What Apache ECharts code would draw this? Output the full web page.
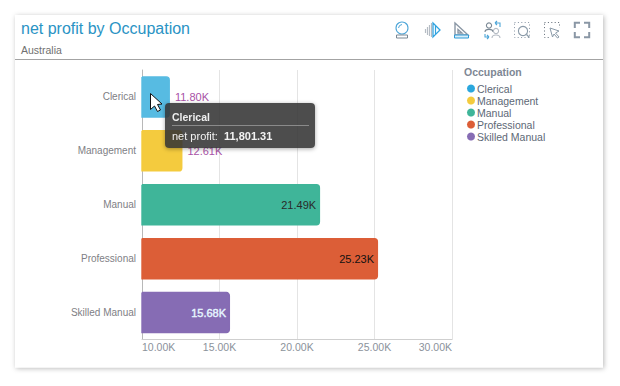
<!DOCTYPE html>
<html><head><meta charset="utf-8">
<style>html,body{margin:0;padding:0;background:#fff}#c{width:620px;height:386px}</style>
<script src="https://cdn.jsdelivr.net/npm/echarts@6/dist/echarts.min.js"></script>
</head><body><div id="c"></div>
<script>
const categories = ['Clerical','Management','Manual','Professional','Skilled Manual'];
const netProfit = [11801.31,12610,21490,25230,15680];
const barColors = ['#57bbe2','#f4cb3e','#3fb599','#dc5e37','#866cb4'];
const legendColors = ['#2ba7dd','#f4cb3e','#3fb599','#dc5e37','#866cb4'];
const labelColors = ['#a852a6','#a852a6','#2a2a2a','#111111','#e6f6ff'];
const labelPositions = ['right','right','insideRight','insideRight','insideRight'];
const labelGaps = [5,5,4,4,4];
const fmtK = v => (v/1000).toFixed(2)+'K';
const FONT = '"Liberation Sans",Arial,sans-serif';
const chart = echarts.init(document.getElementById('c'),null,{renderer:'svg',width:620,height:386});
const line = (shape,stroke,w) => ({type:'line',shape,style:{stroke,lineWidth:w||1.2,fill:null}});
let pathCount = 0;
const path = (d,stroke,w,fill,z) => {
  const name = 'iconPath'+(pathCount++);
  echarts.graphic.registerShape(name, echarts.graphic.extendPath(d));
  return {type:name,z:z||0,style:{stroke,lineWidth:w||1.2,fill:fill||'none'}};
};
const icon = (x,y,children)=>({type:'group',x,y,children});
const blue='#4ea6d8', grey='#8a97a5', lg='#b5bcc4';
const dash=[1,2.4];
chart.setOption({
  animation:false,
  textStyle:{fontFamily:FONT},
  title:{left:16,top:15,text:'net profit by Occupation',itemGap:8,
    textStyle:{color:'#2a93c4',fontSize:16,fontWeight:'normal',fontFamily:FONT},
    subtext:'Australia',subtextStyle:{color:'#707070',fontSize:10.5,fontFamily:FONT}},
  grid:{left:142,right:168,top:70,bottom:46.5,containLabel:false},
  xAxis:{type:'value',min:10000,max:30000,interval:5000,
    axisLine:{show:true,lineStyle:{color:'#cfcfcf'}},axisTick:{show:false},
    splitLine:{show:true,lineStyle:{color:'#e4e4e4'}},
    axisLabel:{formatter:fmtK,color:'#8b929b',fontSize:10.5,margin:2,alignMinLabel:'left',alignMaxLabel:'right'}},
  yAxis:{type:'category',inverse:true,data:categories,
    axisLine:{show:true,lineStyle:{color:'#b8b8b8'}},axisTick:{show:false},
    axisLabel:{color:'#808085',fontSize:10,margin:6}},
  legend:{left:467,top:83,padding:0,orient:'vertical',itemWidth:8,itemHeight:8,itemGap:1,icon:'circle',selectedMode:false,
    textStyle:{color:'#5d6876',fontSize:10.5,padding:[0,0,0,-3]},
    data:categories.map((n,i)=>({name:n,itemStyle:{color:legendColors[i],borderWidth:0}}))},
  tooltip:{trigger:'item',showContent:true,alwaysShowContent:true,transitionDuration:0,
    position:[165,103],padding:[7,6,6,7],backgroundColor:'rgba(52,52,52,0.88)',borderWidth:0,borderRadius:4,
    extraCssText:'width:137px;height:32px;box-sizing:content-box;box-shadow:0 1px 4px rgba(0,0,0,.35);font-family:'+FONT+';',
    formatter:p=>'<div style="color:#eee;font-size:10.5px;font-weight:bold;line-height:14px;border-bottom:1px solid #8a8a8a;padding-bottom:1px;">'+p.seriesName+'</div>'+
      '<div style="color:#f2f2f2;font-size:11px;line-height:20px;white-space:nowrap;">net profit:&nbsp; <b>'+
      p.value.toLocaleString('en-US',{minimumFractionDigits:2})+'</b></div>'},
  series:categories.map((n,i)=>({
    name:n,type:'bar',barWidth:41.5,barGap:'-100%',
    data:categories.map((c,j)=>j===i?netProfit[j]:null),
    itemStyle:{color:barColors[i],borderColor:barColors[i],borderWidth:1.4,borderRadius:[0,3,3,0]},
    emphasis:{disabled:true},
    label:{show:true,position:labelPositions[i],distance:labelGaps[i],formatter:p=>fmtK(p.value),
      color:labelColors[i],fontSize:11,fontFamily:FONT,
      textBorderColor:labelColors[i],textBorderWidth:i===4?0.4:0}
  })),
  graphic:[
    {type:'rect',z:-100,shape:{x:15,y:15,width:588,height:352.5},
      style:{fill:'#fff',shadowBlur:5,shadowColor:'rgba(0,0,0,0.28)',shadowOffsetX:1,shadowOffsetY:1}},
    {type:'line',z:-90,shape:{x1:15,y1:59.5,x2:603,y2:59.5},style:{stroke:'#a3a3a3',lineWidth:1}},
    {type:'text',x:464,y:66,style:{text:'Occupation',fill:'#7e8794',font:'bold 10.5px '+FONT}},
    {type:'group',z:50,children:[
      icon(396,22,[{type:'circle',shape:{cx:6,cy:6,r:6},style:{stroke:blue,fill:'none',lineWidth:1.1}},
        path('M2.5 6 A4 4 0 0 1 6 2.5',blue,1),
        {type:'rect',shape:{x:0.5,y:13,width:11,height:3},style:{stroke:'#7a8894',fill:'none',lineWidth:1}}]),
      icon(424,22,[path('M9 1 L16 8 L9 15 Z','#2fa3e0',1.3),
        path('M7.5 1 V15 M5.5 3 V14 M3.5 5 V13 M1.5 7 V11',lg,1.2),line({x1:11.5,y1:4,x2:11.5,y2:12},'#2fa3e0')]),
      icon(454,22,[path('M1 1 L14 13 H1 Z M4 7.5 L8 11 H4 Z','#8a97a5',1.4),
        {type:'rect',shape:{x:0.5,y:13,width:14,height:3},style:{stroke:'#2f9ad6',fill:'#d8eefa',lineWidth:1}}]),
      icon(484,22,[{type:'circle',shape:{cx:5,cy:3.5,r:2.6},style:{stroke:'#7a8894',fill:'none',lineWidth:1.1}},
        path('M1 10 C1 6.5 9 6.5 9 10','#7a8894',1.1),
        {type:'circle',shape:{cx:12,cy:9,r:2.6},style:{stroke:lg,fill:'none',lineWidth:1.1}},
        path('M8 16 C8 12 16 12 16 16',lg,1.1),
        path('M11 1 H16 V5 M11 1 L13 -1 M11 1 L13 3',blue,1.1),path('M1 12 V15 H5 M5 15 L3 13 M5 15 L3 17',blue,1.1)]),
      icon(514,22,[{type:'rect',shape:{x:0.5,y:0.5,width:15,height:15},style:{stroke:'#8a97a5',fill:'none',lineWidth:1,lineDash:dash}},
        {type:'circle',shape:{cx:9,cy:9,r:4.6},style:{stroke:'#8a9aa8',fill:'#fff',lineWidth:1.1}},
        line({x1:12.5,y1:12.5,x2:15.5,y2:15.5},'#8a9aa8')]),
      icon(544,22,[{type:'rect',shape:{x:0.5,y:0.5,width:15,height:15},style:{stroke:'#5f6a75',fill:'none',lineWidth:1,lineDash:dash}},
        {type:'rect',z:1,shape:{x:6,y:6,width:11,height:11},style:{fill:'#fff'}},
        path('M6 6 L15 9 L11.5 11 L15 15 L13.5 16 L10 12 L8.5 15 Z','#8a9aa8',1,'#fff',2)]),
      icon(574,22,[path('M0.8 6 V0.8 H6 M10 0.8 H15.2 V6 M15.2 10 V15.2 H10 M6 15.2 H0.8 V10',grey,2)]),
      path('M150.5 93.5 V109.5 L154.5 106 L157.5 111.5 L160.5 110 L157.5 104.5 L162 104 Z','#111',1,'#fff',60)
    ]}
  ]
});
chart.dispatchAction({type:'showTip',seriesIndex:0,dataIndex:0});
</script></body></html>
